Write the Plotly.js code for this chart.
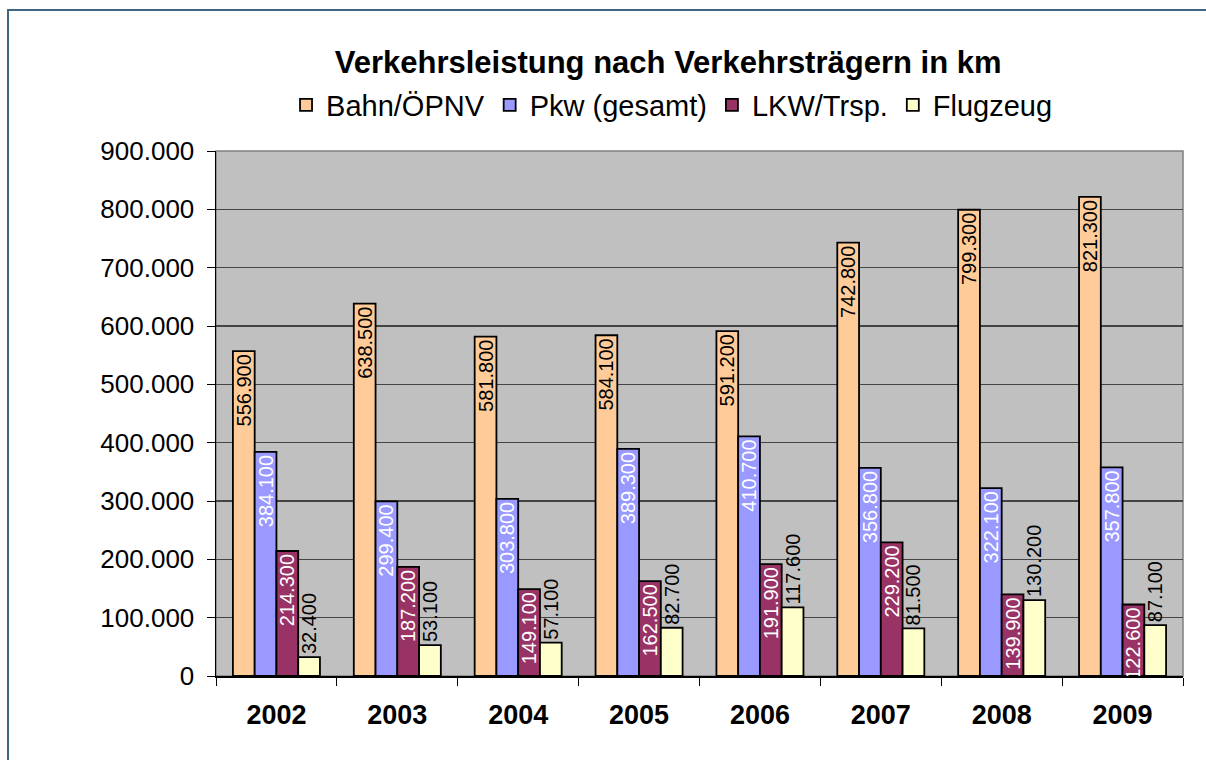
<!DOCTYPE html>
<html><head><meta charset="utf-8">
<script src="https://cdn.plot.ly/plotly-3.0.1.min.js"></script>
<style>
html,body{margin:0;padding:0;background:#fff;overflow:hidden}
#frame{position:absolute;left:7px;top:9px;width:1300px;height:900px;border:2px solid #3f6680;box-sizing:border-box}
#chart{position:absolute;left:0;top:0;width:1206px;height:760px}
</style></head>
<body><div id="frame"></div><div id="chart"></div>
<script>
const years = ['2002','2003','2004','2005','2006','2007','2008','2009'];
const bahn = [556900,638500,581800,584100,591200,742800,799300,821300];
const pkw = [384100,299400,303800,389300,410700,356800,322100,357800];
const lkw = [214300,187200,149100,162500,191900,229200,139900,122600];
const flug = [32400,53100,57100,82700,117600,81500,130200,87100];
const names = ['Bahn/ÖPNV','Pkw (gesamt)','LKW/Trsp.','Flugzeug'];
const colors = ['#FFCC99','#9999FF','#993366','#FFFFCC'];
const labelColors = ['#000000','#ffffff','#ffffff','#000000'];
const positions = ['inside','inside','inside','outside'];
const series = [bahn,pkw,lkw,flug];
const F = 'Liberation Sans, Arial, sans-serif';
const traces = series.map((s,i)=>({
  type:'bar', name:names[i], x:years, y:s,
  marker:{color:colors[i], line:{color:'#000', width:1.8}},
  texttemplate:'%{y:,d}', textposition:positions[i], textangle:-90,
  insidetextanchor:'end', constraintext:'none', cliponaxis:false,
  textfont:{family:F, size:20, color:labelColors[i]},
  hoverinfo:'skip'
}));
const layout = {
  width:1206, height:760,
  paper_bgcolor:'rgba(0,0,0,0)', plot_bgcolor:'#C0C0C0',
  margin:{l:216, r:23, t:151, b:84},
  separators:',.',
  barmode:'group', bargap:0.28, bargroupgap:0,
  font:{family:F, color:'#000'},
  title:{text:'<b>Verkehrsleistung nach Verkehrsträgern in km</b>', font:{family:F, size:31, color:'#000'}, x:0.554, xref:'container', y:0.918, yref:'container', yanchor:'middle'},
  showlegend:true,
  legend:{orientation:'h', x:0.4716, xanchor:'center', y:1.0876, yanchor:'middle', font:{family:F, size:29}, bgcolor:'rgba(0,0,0,0)', traceorder:'normal', itemwidth:30},
  xaxis:{type:'category', tickson:'boundaries', ticks:'outside', ticklen:8, tickcolor:'#000', showline:true, linecolor:'#000', linewidth:1.5, tickfont:{family:F, size:27}, tickprefix:'<b>', ticksuffix:'</b>', showgrid:false, ticklabelstandoff:14},
  yaxis:{range:[0,900000], dtick:100000, tickformat:',d', ticks:'outside', ticklen:8, tickcolor:'#000', showline:true, linecolor:'#000', linewidth:1.5, gridcolor:'#444444', gridwidth:1.5, tickfont:{family:F, size:26}, zeroline:false, ticklabelstandoff:7},
  shapes:[{type:'rect', xref:'paper', yref:'paper', x0:0, x1:1, y0:0, y1:1, line:{color:'#808080', width:1.5}, layer:'below'}]
};
Plotly.newPlot('chart', traces, layout, {displayModeBar:false, staticPlot:true});
</script></body></html>
